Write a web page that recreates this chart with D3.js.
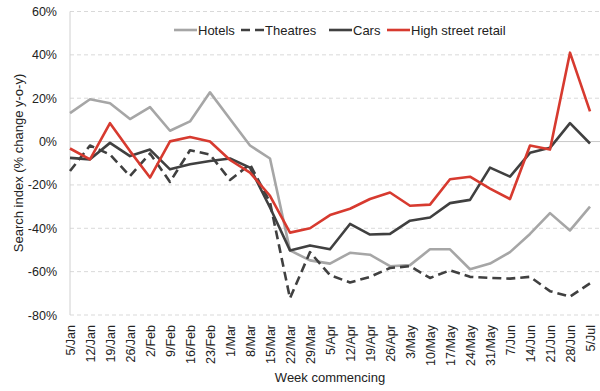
<!DOCTYPE html>
<html><head><meta charset="utf-8">
<script src="https://cdn.jsdelivr.net/npm/d3@7"></script>
<style>body{margin:0;background:#fff}svg{display:block;font-family:"Liberation Sans",Arial,Helvetica,sans-serif}</style>
</head><body><svg id="c" width="600" height="391"></svg>
<script>
const weeks = ["5/Jan","12/Jan","19/Jan","26/Jan","2/Feb","9/Feb","16/Feb","23/Feb","1/Mar","8/Mar","15/Mar","22/Mar","29/Mar","5/Apr","12/Apr","19/Apr","26/Apr","3/May","10/May","17/May","24/May","31/May","7/Jun","14/Jun","21/Jun","28/Jun","5/Jul"];
const hotels = [13.1,19.5,17.7,10.4,15.9,5,9.3,22.7,10.4,-1.8,-7.8,-50.2,-54.8,-56.3,-51.3,-52.2,-57.5,-57,-49.7,-49.7,-58.9,-56.3,-51,-42.6,-33,-41,-30];
const theatres = [-13.6,-1.8,-6,-15.9,-5.5,-18.6,-4,-6,-17.7,-10.5,-28,-72.3,-51,-61.6,-65,-62.4,-58.3,-57.5,-62.9,-59.4,-62.4,-62.9,-63.2,-62.4,-69,-71.5,-65.4];
const cars = [-7.5,-8.2,-0.6,-6.7,-3.7,-12.8,-10.5,-9,-7.8,-12,-30.4,-50.2,-47.9,-49.7,-38,-42.9,-42.6,-36.5,-35,-28.4,-26.9,-12,-16.2,-5.2,-2.9,8.5,-0.9];
const retail = [-3.2,-8.2,8.5,-4.4,-16.6,0.1,2.1,0,-8.5,-14.3,-25,-42,-40,-33.9,-31,-26.5,-23.5,-29.6,-29.1,-17.4,-16.2,-21.7,-26.5,-1.8,-3.7,41,13.9];
const yTicks = [60,40,20,0,-20,-40,-60,-80];
const seriesNames = ["Hotels","Theatres","Cars","High street retail"];

const series = [
  {name: seriesNames[0], values: hotels, color: "#a6a6a6", dash: null},
  {name: seriesNames[1], values: theatres, color: "#404040", dash: "9,5"},
  {name: seriesNames[2], values: cars, color: "#404040", dash: null},
  {name: seriesNames[3], values: retail, color: "#d73a2f", dash: null}
];

const svg = d3.select("#c");
const x = d3.scalePoint().domain(weeks).range([70, 590]);
const y = d3.scaleLinear().domain([-80, 60]).range([315, 11.5]);

// gridlines
svg.append("g").selectAll("line").data(yTicks).join("line")
  .attr("x1", 70).attr("x2", 600)
  .attr("y1", d => y(d)).attr("y2", d => y(d))
  .attr("stroke", d => d === 0 ? "#c8c8c8" : "#d9d9d9")
  .attr("stroke-width", 1)
  .attr("stroke-dasharray", d => d === 0 ? null : "4,3");

// left axis line
svg.append("line").attr("x1", 70).attr("x2", 70).attr("y1", y(60)).attr("y2", y(-80))
  .attr("stroke", "#d0d0d0").attr("stroke-width", 1);

// y tick labels
const yAxis = d3.axisLeft(y).tickValues(yTicks).tickFormat(d => d + "%").tickSize(0).tickPadding(13);
const ya = svg.append("g").attr("transform", "translate(70,0)").call(yAxis);
ya.select(".domain").remove();
ya.selectAll("text").attr("font-size", 12.5).attr("fill", "#222").attr("font-family", "Liberation Sans, Arial, sans-serif");

// x tick labels
const xAxis = d3.axisBottom(x).tickSize(0).tickPadding(0);
const xa = svg.append("g").attr("transform", "translate(0,325)").call(xAxis);
xa.select(".domain").remove();
xa.selectAll("text")
  .attr("font-size", 12.5).attr("fill", "#222").attr("font-family", "Liberation Sans, Arial, sans-serif")
  .attr("transform", "rotate(-90)")
  .attr("text-anchor", "end")
  .attr("x", 0).attr("y", 0).attr("dy", "0.35em");

// lines
const line = d3.line().x((d, i) => x(weeks[i])).y(d => y(d));
svg.append("g").selectAll("path").data(series).join("path")
  .attr("d", d => line(d.values))
  .attr("fill", "none")
  .attr("stroke", d => d.color)
  .attr("stroke-width", 2.6)
  .attr("stroke-linejoin", "round")
  .attr("stroke-dasharray", d => d.dash);

// legend
const legendX = [174, 241, 329, 387];
const lg = svg.append("g");
series.forEach((s, i) => {
  const g = lg.append("g").attr("transform", `translate(${legendX[i]},30)`);
  g.append("line").attr("x1", 0).attr("x2", 23).attr("y1", 0).attr("y2", 0)
    .attr("stroke", s.color).attr("stroke-width", 2.6).attr("stroke-dasharray", s.dash ? "9,5" : null);
  g.append("text").attr("x", 24).attr("y", 0).attr("dy", "0.35em")
    .attr("font-size", 13).attr("fill", "#222").text(s.name);
});

// axis titles
svg.append("text").attr("x", 330).attr("y", 382).attr("text-anchor", "middle")
  .attr("font-size", 13).attr("fill", "#222").text("Week commencing");
svg.append("text").attr("transform", "translate(18,163) rotate(-90)").attr("text-anchor", "middle")
  .attr("dy", "0.35em").attr("font-size", 13).attr("fill", "#222").text("Search index (% change y-o-y)");
</script></body></html>
